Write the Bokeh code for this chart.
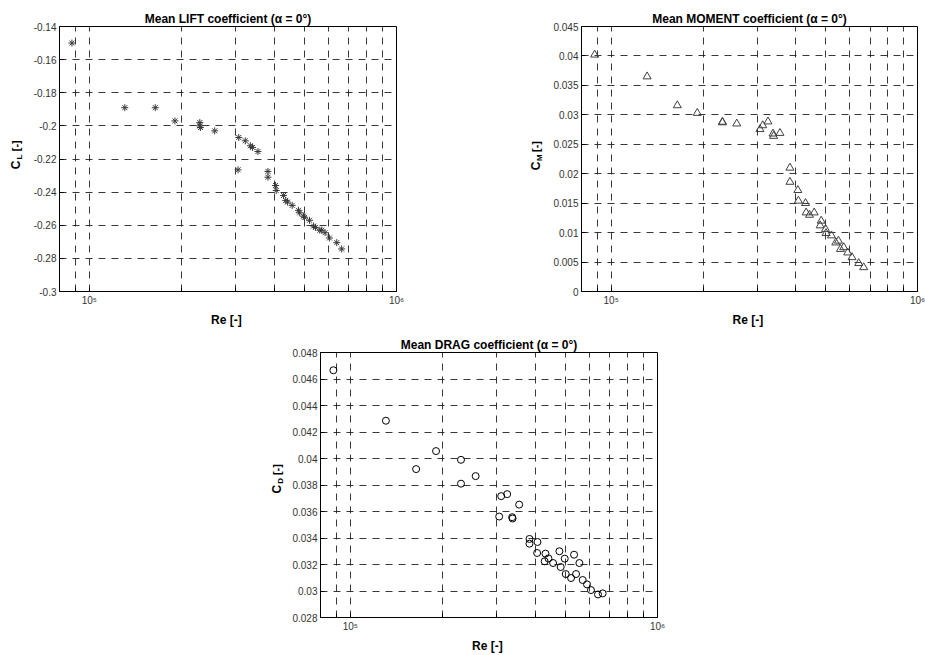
from bokeh.plotting import figure
from bokeh.models import Range1d, FixedTicker, Spacer
from bokeh.layouts import row, column
from bokeh.core.properties import value
from bokeh.embed import file_html
from bokeh.resources import INLINE
import math

# ---------------- data ----------------
re_lift = [87800, 130500, 164000, 190000, 229000, 229000, 230000, 256000, 306600,
           322000, 334500, 340000, 354000, 305000, 381500, 381500, 404000, 406000,
           429000, 436000, 442000, 457600, 479700, 484000, 498000, 501700, 521000,
           537000, 544700, 563000, 571000, 585600, 604800, 638900, 663000]
cl = [-0.150, -0.189, -0.189, -0.197, -0.198, -0.200, -0.201, -0.203, -0.207,
      -0.209, -0.212, -0.213, -0.2155, -0.2265, -0.2275, -0.231, -0.236, -0.239,
      -0.242, -0.245, -0.246, -0.248, -0.251, -0.2525, -0.2545, -0.2552, -0.257,
      -0.2605, -0.2613, -0.263, -0.263, -0.2645, -0.2677, -0.2705, -0.2743]

re_mom = [88300, 131000, 164400, 191000, 230800, 230800, 257000, 306000, 312400,
          325000, 337500, 339000, 355600, 383300, 383300, 406900, 408500, 431000,
          433000, 444000, 460000, 484800, 481000, 501000, 503000, 523800, 541000,
          552000, 560300, 574400, 591800, 611300, 642700, 667300]
cm = [0.0402, 0.0365, 0.0316, 0.0303, 0.0288, 0.0287, 0.0285, 0.02755, 0.0282,
      0.02885, 0.0268, 0.0264, 0.0269, 0.0210, 0.0186, 0.0172, 0.0154, 0.0150,
      0.0134, 0.0130, 0.0134, 0.0120, 0.0112, 0.0106, 0.0099, 0.0095, 0.0083,
      0.0086, 0.0072, 0.0075, 0.0066, 0.0058, 0.0048, 0.0041]

re_drag = [88100, 130600, 163800, 190200, 229300, 229300, 255900, 305300, 309900,
           324100, 336500, 337500, 354600, 383100, 383100, 406700, 405700, 431900,
           429200, 441600, 457200, 479400, 484000, 498900, 502700, 523200, 535100,
           543100, 556800, 570800, 589600, 607400, 640200, 663000]
cd = [0.04666, 0.04285, 0.0392, 0.04056, 0.0399, 0.0381, 0.03867, 0.03562, 0.03716,
      0.03731, 0.03557, 0.03547, 0.03652, 0.03393, 0.03357, 0.0337, 0.03287, 0.03282,
      0.03224, 0.03246, 0.03211, 0.0330, 0.03181, 0.03244, 0.03128, 0.03098, 0.03274,
      0.03128, 0.03211, 0.03083, 0.0305, 0.03007, 0.02974, 0.02982]

x_ticks = [90000, 100000, 200000, 300000, 400000, 500000, 600000, 700000, 800000,
           900000, 1000000]
x_tick_labels = ["", "10\u2075", "", "", "", "", "", "", "", "", "10\u2076"]

cl_ticks = [-0.3, -0.28, -0.26, -0.24, -0.22, -0.2, -0.18, -0.16, -0.14]
cl_labels = ["-0.3", "-0.28", "-0.26", "-0.24", "-0.22", "-0.2", "-0.18", "-0.16", "-0.14"]
cm_ticks = [0, 0.005, 0.01, 0.015, 0.02, 0.025, 0.03, 0.035, 0.04, 0.045]
cm_labels = ["0", "0.005", "0.01", "0.015", "0.02", "0.025", "0.03", "0.035", "0.04", "0.045"]
cd_ticks = [0.028, 0.03, 0.032, 0.034, 0.036, 0.038, 0.04, 0.042, 0.044, 0.046, 0.048]
cd_labels = ["0.028", "0.03", "0.032", "0.034", "0.036", "0.038", "0.04", "0.042",
             "0.044", "0.046", "0.048"]

FONT = "Liberation Sans"


def make_fig(title, xs, ys, marker, yticks, ylabels, width, height,
             bl, br, bt, bb, msize, mcolor):
    p = figure(width=width, height=height, x_axis_type="log",
               x_range=Range1d(80000, 1000000),
               y_range=Range1d(yticks[0], yticks[-1]),
               output_backend="svg", toolbar_location=None,
               min_border_left=bl, min_border_right=br,
               min_border_top=bt, min_border_bottom=bb,
               background_fill_color="white", border_fill_color="white")
    p.title.text = title
    p.title.align = "center"
    p.title.text_font = FONT
    p.title.text_font_size = "12px"
    p.title.text_font_style = "bold"
    p.title.text_color = "black"
    p.title.standoff = 2

    p.outline_line_color = "black"
    p.outline_line_width = 1
    p.outline_line_alpha = 1

    for ax in (p.xaxis[0], p.yaxis[0]):
        ax.axis_line_color = "black"
        ax.major_tick_in = 4
        ax.major_tick_out = 0
        ax.minor_tick_in = 0
        ax.minor_tick_out = 0
        ax.major_tick_line_color = "black"
        ax.major_label_text_font = FONT
        ax.major_label_text_font_size = "10px"
        ax.major_label_text_color = "#333333"

    p.xaxis.ticker = FixedTicker(ticks=x_ticks)
    p.xaxis.major_label_overrides = {t: l for t, l in zip(x_ticks, x_tick_labels)}
    p.xaxis.major_label_standoff = 3
    p.xaxis.axis_label = "Re  [-]"
    p.xaxis.axis_label_text_font = FONT
    p.xaxis.axis_label_text_font_size = "12px"
    p.xaxis.axis_label_text_font_style = "bold"
    p.xaxis.axis_label_text_color = "black"
    p.xaxis.axis_label_standoff = 4

    p.yaxis.ticker = FixedTicker(ticks=yticks)
    p.yaxis.major_label_overrides = {t: l for t, l in zip(yticks, ylabels)}
    p.yaxis.major_label_standoff = 3

    for g in (p.xgrid[0], p.ygrid[0]):
        g.grid_line_color = "#222222"
        g.grid_line_alpha = 0.9
        g.grid_line_dash = "7 6"
        g.grid_line_width = 1

    if marker == "asterisk":
        p.scatter(xs, ys, marker="asterisk", size=msize, line_color=mcolor,
                  line_width=1.0)
    else:
        p.scatter(xs, ys, marker=marker, size=msize, fill_color=None,
                  line_color=mcolor, line_width=1)
    return p


def ylabel_fig(sub, width, height, cx, cy):
    """Narrow strip holding the rotated y-axis label 'C_sub  [-]'.
    cx, cy: centre of the 'C' in strip pixels (cy measured from the top)."""
    q = figure(width=width, height=height, title=None,
               x_range=Range1d(0, width), y_range=Range1d(0, height),
               output_backend="svg", toolbar_location=None,
               min_border_left=0, min_border_right=0,
               min_border_top=0, min_border_bottom=0,
               background_fill_color="white", border_fill_color="white",
               outline_line_color=None)
    q.axis.visible = False
    q.grid.visible = False
    ang = math.pi / 2
    yb = height - cy
    common = dict(angle=ang, text_font=value(FONT), text_font_style="bold",
                  text_align="center", text_baseline="middle", text_color="black")
    q.text(x=[cx], y=[yb], text=["C"], text_font_size="12px", **common)
    q.text(x=[cx + 3.5], y=[yb + 10], text=[sub], text_font_size="8px", **common)
    q.text(x=[cx], y=[yb + 24], text=["[-]"], text_font_size="11px", **common)
    return q


p1 = make_fig("Mean LIFT coefficient (\u03b1 = 0\u00b0)", re_lift, cl, "asterisk",
              cl_ticks, cl_labels, 437, 329, 28, 71, 26, 37, 7, "#3a3a3a")
p2 = make_fig("Mean MOMENT coefficient (\u03b1 = 0\u00b0)", re_mom, cm, "triangle",
              cm_ticks, cm_labels, 375, 329, 31, 8, 26, 37, 8, "#404040")
p3 = make_fig("Mean DRAG coefficient (\u03b1 = 0\u00b0)", re_drag, cd, "circle",
              cd_ticks, cd_labels, 387, 326, 31, 19, 23, 38, 7, "black")

l1 = ylabel_fig("L", 30, 329, 15, 172)
l2 = ylabel_fig("M", 30, 329, 15, 173)
l3 = ylabel_fig("D", 26, 326, 13, 168)

top = row(l1, p1, Spacer(width=53, height=329), l2, p2)
bottom = row(Spacer(width=263, height=326), l3, p3)
layout = column(top, bottom)

open("out.html", "w").write(file_html(layout, INLINE))
